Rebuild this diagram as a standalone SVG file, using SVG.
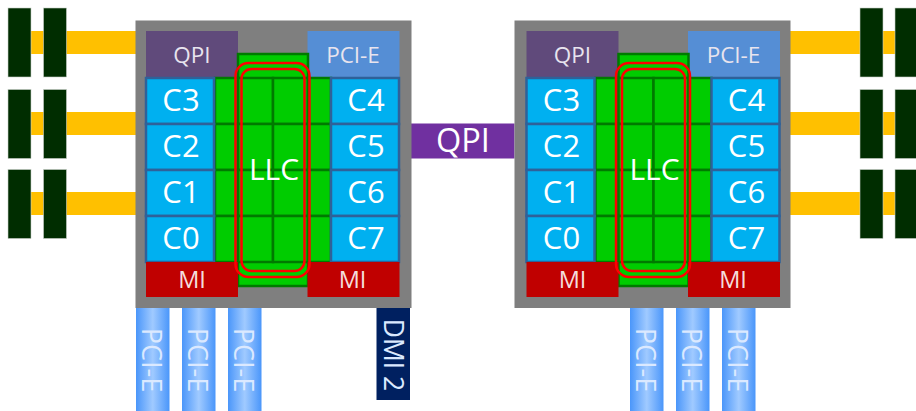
<svg xmlns="http://www.w3.org/2000/svg" width="916" height="411" viewBox="0 0 916 411">
<style>
text{font-family:"Open Sans","Noto Sans",sans-serif;fill:#fff;text-anchor:middle}
.s{font-size:22.5px;fill:#e8e4ee}
.c{font-size:31px}
.l{font-size:30px}
.m{font-size:23.5px;fill:#f4dcdc}
.v{font-size:27px;fill:#dbe9ff}
.d{font-size:26.5px;fill:#dbe9ff}
.gray{fill:#7f7f7f}
.dimm{fill:#002d00;stroke:#c8d0c8;stroke-width:.6}
.bus{fill:#ffc000}
.core{fill:#00b0f0;stroke:#2f6199;stroke-width:2.5}
.cell{fill:#00cc00;stroke:#007a00;stroke-width:2.5}
.red{fill:none;stroke:#ff0000;stroke-width:2.5}
</style>
<defs>
<linearGradient id="pg" x1="0" y1="0" x2="1" y2="0">
<stop offset="0" stop-color="#4a96fa"/><stop offset=".5" stop-color="#a0caff"/><stop offset="1" stop-color="#4a96fa"/>
</linearGradient>
</defs>
<g id="connectors">
<rect class="bus" x="30" y="31" width="106" height="23"/>
<rect class="bus" x="30" y="112" width="106" height="23"/>
<rect class="bus" x="30" y="192" width="106" height="23"/>
<rect class="bus" x="790" y="31" width="106" height="23"/>
<rect class="bus" x="790" y="112" width="106" height="23"/>
<rect class="bus" x="790" y="192" width="106" height="23"/>
</g>
<g id="dimms-left">
<rect class="dimm" x="8" y="8" width="23" height="69"/><rect class="dimm" x="43.500" y="8" width="23" height="69"/>
<rect class="dimm" x="8" y="89.500" width="23" height="69"/><rect class="dimm" x="43.500" y="89.500" width="23" height="69"/>
<rect class="dimm" x="8" y="169.500" width="23" height="69"/><rect class="dimm" x="43.500" y="169.500" width="23" height="69"/>
</g>
<g id="dimms-right">
<rect class="dimm" x="860" y="8" width="23" height="69"/><rect class="dimm" x="895" y="8" width="23" height="69"/>
<rect class="dimm" x="860" y="89.500" width="23" height="69"/><rect class="dimm" x="895" y="89.500" width="23" height="69"/>
<rect class="dimm" x="860" y="169.500" width="23" height="69"/><rect class="dimm" x="895" y="169.500" width="23" height="69"/>
</g>
<g id="qpi-link">
<rect x="411" y="123.500" width="103.500" height="35" fill="#7030a0"/>
<text x="463" y="152" style="font-size:32.5px">QPI</text>
</g>
<g id="cpu-left">
<rect class="gray" x="135.500" y="20.500" width="276" height="287.500"/>
<rect x="146" y="31" width="92" height="46" fill="#604a7b"/><text class="s" x="192" y="63">QPI</text>
<rect x="307.500" y="31" width="92" height="46" fill="#558ed5"/><text class="s" x="353" y="63">PCI-E</text>
<rect class="cell" x="238" y="54" width="70" height="232"/>
<g>
<rect class="cell" x="215" y="78" width="23" height="46"/><rect class="cell" x="238" y="78" width="35" height="46"/><rect class="cell" x="273" y="78" width="35" height="46"/><rect class="cell" x="308" y="78" width="23" height="46"/>
<rect class="cell" x="215" y="124" width="23" height="46"/><rect class="cell" x="238" y="124" width="35" height="46"/><rect class="cell" x="273" y="124" width="35" height="46"/><rect class="cell" x="308" y="124" width="23" height="46"/>
<rect class="cell" x="215" y="170" width="23" height="46"/><rect class="cell" x="238" y="170" width="35" height="46"/><rect class="cell" x="273" y="170" width="35" height="46"/><rect class="cell" x="308" y="170" width="23" height="46"/>
<rect class="cell" x="215" y="216" width="23" height="46"/><rect class="cell" x="238" y="216" width="35" height="46"/><rect class="cell" x="273" y="216" width="35" height="46"/><rect class="cell" x="308" y="216" width="23" height="46"/>
</g>
<rect class="core" x="146" y="78" width="68" height="46"/><text class="c" x="181" y="111">C3</text>
<rect class="core" x="146" y="124" width="68" height="46"/><text class="c" x="181" y="157">C2</text>
<rect class="core" x="146" y="170" width="68" height="46"/><text class="c" x="181" y="203">C1</text>
<rect class="core" x="146" y="216" width="68" height="46"/><text class="c" x="181" y="249">C0</text>
<rect class="core" x="331" y="78" width="68" height="46"/><text class="c" x="366" y="111">C4</text>
<rect class="core" x="331" y="124" width="68" height="46"/><text class="c" x="366" y="157">C5</text>
<rect class="core" x="331" y="170" width="68" height="46"/><text class="c" x="366" y="203">C6</text>
<rect class="core" x="331" y="216" width="68" height="46"/><text class="c" x="366" y="249">C7</text>
<rect x="146" y="262" width="92" height="35" fill="#c00000"/><text class="m" x="192" y="288">MI</text>
<rect x="307.500" y="262" width="92" height="35" fill="#c00000"/><text class="m" x="352.500" y="288">MI</text>
<rect class="red" x="235.500" y="63" width="74" height="214" rx="13"/>
<rect class="red" x="241.500" y="69" width="63" height="202" rx="10"/>
<text class="l" x="274" y="180">LLC</text>
</g>
<g id="cpu-right">
<rect class="gray" x="514.500" y="20.500" width="276" height="287.500"/>
<rect x="526.500" y="31" width="92" height="46" fill="#604a7b"/><text class="s" x="572.500" y="63">QPI</text>
<rect x="688" y="31" width="92" height="46" fill="#558ed5"/><text class="s" x="733.500" y="63">PCI-E</text>
<rect class="cell" x="618.500" y="54" width="70" height="232"/>
<g>
<rect class="cell" x="595.500" y="78" width="23" height="46"/><rect class="cell" x="618.500" y="78" width="35" height="46"/><rect class="cell" x="653.500" y="78" width="35" height="46"/><rect class="cell" x="688.500" y="78" width="23" height="46"/>
<rect class="cell" x="595.500" y="124" width="23" height="46"/><rect class="cell" x="618.500" y="124" width="35" height="46"/><rect class="cell" x="653.500" y="124" width="35" height="46"/><rect class="cell" x="688.500" y="124" width="23" height="46"/>
<rect class="cell" x="595.500" y="170" width="23" height="46"/><rect class="cell" x="618.500" y="170" width="35" height="46"/><rect class="cell" x="653.500" y="170" width="35" height="46"/><rect class="cell" x="688.500" y="170" width="23" height="46"/>
<rect class="cell" x="595.500" y="216" width="23" height="46"/><rect class="cell" x="618.500" y="216" width="35" height="46"/><rect class="cell" x="653.500" y="216" width="35" height="46"/><rect class="cell" x="688.500" y="216" width="23" height="46"/>
</g>
<rect class="core" x="526.500" y="78" width="68" height="46"/><text class="c" x="561.500" y="111">C3</text>
<rect class="core" x="526.500" y="124" width="68" height="46"/><text class="c" x="561.500" y="157">C2</text>
<rect class="core" x="526.500" y="170" width="68" height="46"/><text class="c" x="561.500" y="203">C1</text>
<rect class="core" x="526.500" y="216" width="68" height="46"/><text class="c" x="561.500" y="249">C0</text>
<rect class="core" x="711.500" y="78" width="68" height="46"/><text class="c" x="746.500" y="111">C4</text>
<rect class="core" x="711.500" y="124" width="68" height="46"/><text class="c" x="746.500" y="157">C5</text>
<rect class="core" x="711.500" y="170" width="68" height="46"/><text class="c" x="746.500" y="203">C6</text>
<rect class="core" x="711.500" y="216" width="68" height="46"/><text class="c" x="746.500" y="249">C7</text>
<rect x="526.500" y="262" width="92" height="35" fill="#c00000"/><text class="m" x="572.500" y="288">MI</text>
<rect x="688" y="262" width="92" height="35" fill="#c00000"/><text class="m" x="733" y="288">MI</text>
<rect class="red" x="616" y="63" width="74" height="214" rx="13"/>
<rect class="red" x="622" y="69" width="63" height="202" rx="10"/>
<text class="l" x="654.500" y="180">LLC</text>
</g>
<g id="pcie-left">
<rect x="136" y="308" width="33.500" height="103" fill="url(#pg)"/><text class="v" transform="translate(142,360) rotate(90)">PCI-E</text>
<rect x="182" y="308" width="33.500" height="103" fill="url(#pg)"/><text class="v" transform="translate(188,360) rotate(90)">PCI-E</text>
<rect x="228" y="308" width="33.500" height="103" fill="url(#pg)"/><text class="v" transform="translate(234,360) rotate(90)">PCI-E</text>
</g>
<g id="dmi">
<rect x="376.500" y="308" width="33.500" height="92" fill="#002060"/><text class="d" transform="translate(383.500,355) rotate(90)">DMI 2</text>
</g>
<g id="pcie-right">
<rect x="630" y="308" width="33.500" height="103" fill="url(#pg)"/><text class="v" transform="translate(636,360) rotate(90)">PCI-E</text>
<rect x="676" y="308" width="33.500" height="103" fill="url(#pg)"/><text class="v" transform="translate(682,360) rotate(90)">PCI-E</text>
<rect x="722" y="308" width="33.500" height="103" fill="url(#pg)"/><text class="v" transform="translate(728,360) rotate(90)">PCI-E</text>
</g>
</svg>
